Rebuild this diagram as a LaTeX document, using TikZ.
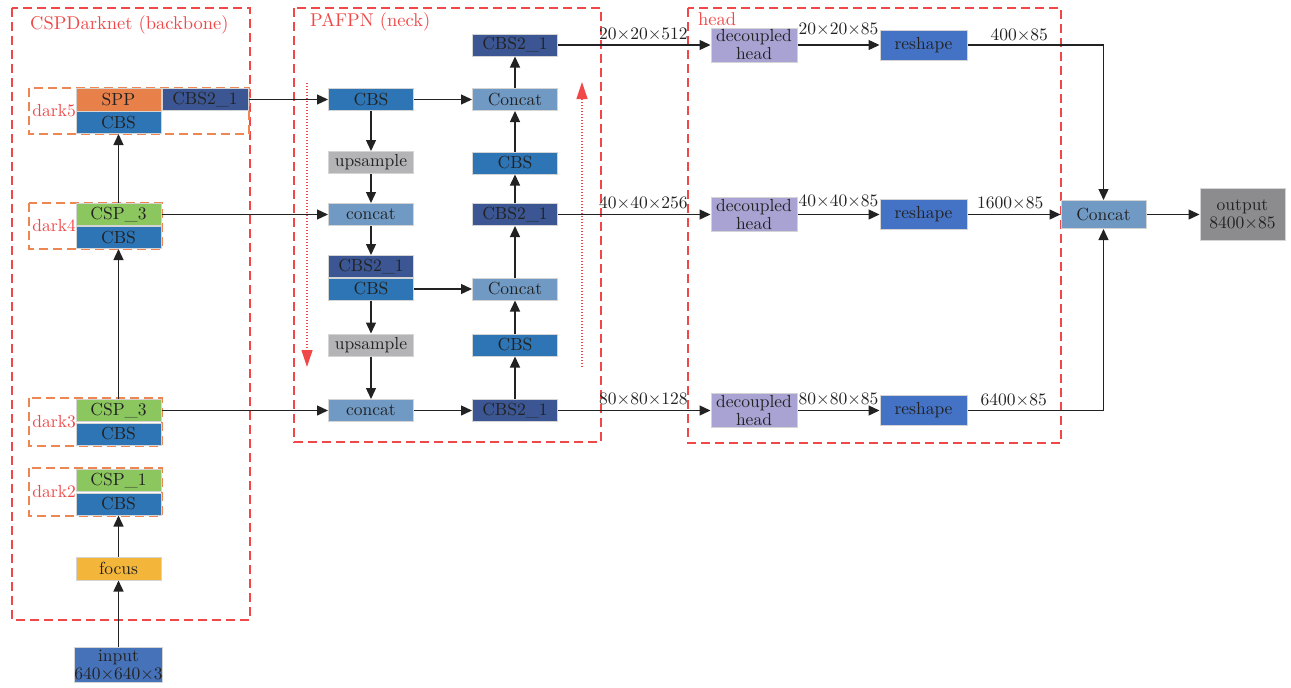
\documentclass[tikz,border=0pt]{standalone}
\usepackage{fontspec}
\setmainfont{lmroman10-regular}[Extension=.otf]
\usetikzlibrary{arrows.meta}
\definecolor{cbsc}{RGB}{46,117,182}
\definecolor{cbstwo}{RGB}{59,86,146}
\definecolor{catc}{RGB}{112,154,196}
\definecolor{upc}{RGB}{180,180,182}
\definecolor{sppc}{RGB}{232,128,74}
\definecolor{cspc}{RGB}{140,198,94}
\definecolor{focc}{RGB}{244,182,58}
\definecolor{inpc}{RGB}{70,114,186}
\definecolor{rsc}{RGB}{68,114,196}
\definecolor{decc}{RGB}{168,163,210}
\definecolor{outc}{RGB}{140,140,142}
\definecolor{redd}{RGB}{240,72,72}
\definecolor{orad}{RGB}{236,134,82}
\definecolor{txt}{RGB}{34,34,34}
\definecolor{bord}{RGB}{212,212,212}
\begin{document}
\begin{tikzpicture}[x=1pt,y=-1pt,
  blk/.style={draw=bord, line width=1pt, minimum width=85pt, minimum height=22pt, inner sep=0pt,
    text=txt, font=\fontsize{17.5}{18}\selectfont, align=center},
  arr/.style={draw=txt, line width=1.3pt, -{Triangle[length=11pt,width=10pt]}},
  lab/.style={font=\fontsize{17.5}{18}\selectfont, text=txt, inner sep=0pt},
  grp/.style={draw=redd, line width=1.3pt, dash pattern=on 9pt off 5pt},
  sub/.style={draw=orad, line width=1.3pt, dash pattern=on 9pt off 5pt},
  ttl/.style={font=\fontsize{18.5}{20}\selectfont, text=redd, inner sep=0pt, anchor=west},
  dk/.style={font=\fontsize{17.5}{18}\selectfont, text=redd, inner sep=0pt, anchor=east},
  rdot/.style={draw=redd, line width=1.2pt, dash pattern=on 1.2pt off 1.8pt, -{Triangle[length=17pt,width=11pt]}}
]
\useasboundingbox (0,0) rectangle (1291,688);
\fill[white] (0,0) rectangle (1291,688);

% group frames
\draw[grp] (12,8) rectangle (250,620);
\draw[grp] (294,8) rectangle (601,442);
\draw[grp] (688,8) rectangle (1061,443);
\node[ttl] (tbb) at (30,25) {CSPDarknet (backbone)};
\node[ttl] (tnk) at (310,22) {PAFPN (neck)};
\node[ttl] (thd) at (698,19) {head};

% backbone
\draw[sub] (29,88) rectangle (249,134);
\draw[sub] (29,203) rectangle (162,249);
\draw[sub] (29,398) rectangle (162,446);
\draw[sub] (29,468) rectangle (162,516);
\node[dk] (l5) at (76,111) {dark5};
\node[dk] (l4) at (76,226) {dark4};
\node[dk] (l3) at (76,422) {dark3};
\node[dk] (l2) at (76,492) {dark2};

\node[blk, fill=sppc, minimum height=23pt] (spp) at (118.5,99.5) {SPP};
\node[blk, fill=cbsc] (d5cbs) at (118.5,122.5) {CBS};
\node[blk, fill=cbstwo, minimum width=86pt] (d5c21) at (205,99.5) {CBS2\_1};
\node[blk, fill=cspc] (d4csp) at (118.5,214.5) {CSP\_3};
\node[blk, fill=cbsc] (d4cbs) at (118.5,237.5) {CBS};
\node[blk, fill=cspc] (d3csp) at (118.5,410.5) {CSP\_3};
\node[blk, fill=cbsc] (d3cbs) at (118.5,434) {CBS};
\node[blk, fill=cspc] (d2csp) at (118.5,480.5) {CSP\_1};
\node[blk, fill=cbsc] (d2cbs) at (118.5,504) {CBS};
\node[blk, fill=focc, minimum height=23pt] (foc) at (118.5,568.5) {focus};
\node[blk, fill=inpc, minimum height=35pt] (inp) at (118.5,664.5) {input\\640×640×3};

\draw[arr] (inp.north) -- (foc.south);
\draw[arr] (foc.north) -- (d2cbs.south);
\draw[arr] (d3csp.north) -- (d4cbs.south);
\draw[arr] (d4csp.north) -- (d5cbs.south);

% neck left column
\node[blk, fill=cbsc] (nc1) at (371,99.5) {CBS};
\node[blk, fill=upc] (up1) at (371,162.5) {upsample};
\node[blk, fill=catc] (cc1) at (371,214.5) {concat};
\node[blk, fill=cbstwo] (m21) at (371,266.5) {CBS2\_1};
\node[blk, fill=cbsc] (mcbs) at (371,289) {CBS};
\node[blk, fill=upc] (up2) at (371,345) {upsample};
\node[blk, fill=catc] (cc2) at (371,410.5) {concat};
% neck right column
\node[blk, fill=cbstwo] (r1) at (515,45) {CBS2\_1};
\node[blk, fill=catc] (rc1) at (515,99.5) {Concat};
\node[blk, fill=cbsc] (rb1) at (515,163) {CBS};
\node[blk, fill=cbstwo] (r2) at (515,214.5) {CBS2\_1};
\node[blk, fill=catc] (rc2) at (515,289) {Concat};
\node[blk, fill=cbsc] (rb2) at (515,345) {CBS};
\node[blk, fill=cbstwo] (r3) at (515,410.5) {CBS2\_1};

\draw[arr] (d5c21.east) -- (nc1.west);
\draw[arr] (nc1.east) -- (rc1.west);
\draw[arr] (nc1.south) -- (up1.north);
\draw[arr] (up1.south) -- (cc1.north);
\draw[arr] (d4csp.east) -- (cc1.west);
\draw[arr] (cc1.south) -- (m21.north);
\draw[arr] (mcbs.east) -- (rc2.west);
\draw[arr] (mcbs.south) -- (up2.north);
\draw[arr] (up2.south) -- (cc2.north);
\draw[arr] (d3csp.east) -- (cc2.west);
\draw[arr] (cc2.east) -- (r3.west);
\draw[arr] (r3.north) -- (rb2.south);
\draw[arr] (rb2.north) -- (rc2.south);
\draw[arr] (rc2.north) -- (r2.south);
\draw[arr] (r2.north) -- (rb1.south);
\draw[arr] (rb1.north) -- (rc1.south);
\draw[arr] (rc1.north) -- (r1.south);

% red dotted flow arrows
\coordinate (dlt) at (307,83);
\coordinate (dlb) at (307,367);
\coordinate (drb) at (582,367);
\coordinate (drt) at (582,82);
\draw[rdot] (dlt) -- (dlb);
\draw[rdot] (drb) -- (drt);

% head
\node[blk, fill=decc, minimum width=86pt, minimum height=34pt] (dh1) at (754,45) {decoupled\\head};
\node[blk, fill=decc, minimum width=86pt, minimum height=34pt] (dh2) at (754,214.5) {decoupled\\head};
\node[blk, fill=decc, minimum width=86pt, minimum height=34pt] (dh3) at (754,410.5) {decoupled\\head};
\node[blk, fill=rsc, minimum width=87pt, minimum height=30pt] (rs1) at (923.5,45) {reshape};
\node[blk, fill=rsc, minimum width=87pt, minimum height=30pt] (rs2) at (923.5,214.5) {reshape};
\node[blk, fill=rsc, minimum width=87pt, minimum height=30pt] (rs3) at (923.5,410.5) {reshape};
\node[blk, fill=catc, minimum height=28pt] (hcat) at (1103.5,214.5) {Concat};
\node[blk, fill=outc, minimum height=52pt] (out) at (1242.5,214.5) {output\\8400×85};

\draw[arr] (r1.east) -- node[lab, above=4pt, pos=0.56] {20×20×512} (dh1.west);
\draw[arr] (r2.east) -- node[lab, above=5pt, pos=0.56] {40×40×256} (dh2.west);
\draw[arr] (r3.east) -- node[lab, above=5pt, pos=0.56] {80×80×128} (dh3.west);
\draw[arr] (dh1.east) -- node[lab, above=9pt, pos=0.5] {20×20×85} (rs1.west);
\draw[arr] (dh2.east) -- node[lab, above=7pt, pos=0.5] {40×40×85} (rs2.west);
\draw[arr] (dh3.east) -- node[lab, above=5pt, pos=0.5] {80×80×85} (rs3.west);
\draw[arr] (rs1.east) -| node[lab, above=3pt, pos=0.19] {400×85} (hcat.north);
\draw[arr] (rs2.east) -- node[lab, above=5pt, pos=0.46] {1600×85} (hcat.west);
\draw[arr] (rs3.east) -| node[lab, above=4pt, pos=0.17] {6400×85} (hcat.south);
\draw[arr] (hcat.east) -- (out.west);
\end{tikzpicture}
\end{document}
